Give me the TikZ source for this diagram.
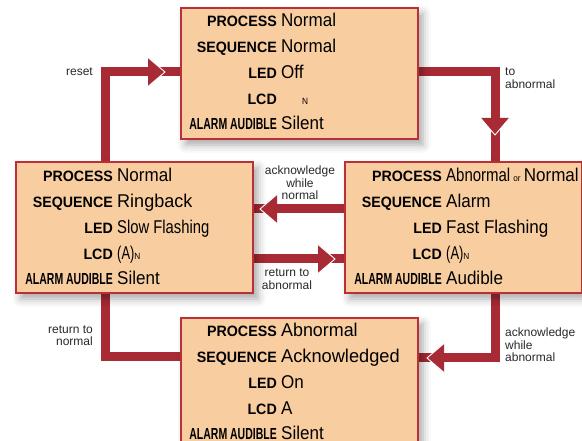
\documentclass[tikz,border=0pt]{standalone}
\usepackage{fontspec}
\usetikzlibrary{shadows.blur}
\newfontfamily\vfont{Liberation Sans}[FakeStretch=0.92]
\newfontfamily\kfont{Liberation Sans}[FakeStretch=0.95]
\newfontfamily\lfont{Liberation Sans}
\definecolor{boxfill}{RGB}{248,205,160}
\definecolor{boxline}{RGB}{185,48,56}
\definecolor{conn}{RGB}{168,42,52}
\definecolor{lbl}{RGB}{40,40,40}
\pgfdeclarelayer{bg}
\pgfsetlayers{bg,main}
\newcommand\sm[1]{{\fontsize{9}{9}\selectfont #1}}
\newcommand\aakey{\scalebox{0.69}[1]{\fontsize{16}{16}\selectfont ALARM AUDIBLE}}
\tikzset{
  state/.style={draw=boxline, line width=1.6pt, fill=boxfill, minimum width=237pt,
    minimum height=131pt, inner sep=0pt, anchor=north west,
    blur shadow={shadow xshift=5pt, shadow yshift=-6pt, shadow blur radius=8pt, shadow opacity=35}},
  key/.style={anchor=base east, inner sep=0pt, font=\kfont\bfseries\fontsize{15}{15}\selectfont},
  val/.style={anchor=base west, inner sep=0pt, font=\vfont\fontsize{18.5}{18.5}\selectfont},
  wire/.style={draw=conn, line width=9pt},
  tag/.style={inner sep=0pt, text=lbl, font=\lfont\fontsize{12}{12.5}\selectfont},
  tiphead/.pic={\fill[conn] (0,0) -- (-17,-14.5) -- (-17,14.5) -- cycle;
    \draw[white, line width=0.9pt] (-17,-14.5) -- (0,0) -- (-17,14.5);}
}
\begin{document}
\begin{tikzpicture}[x=1pt, y=-1pt]
\useasboundingbox (0,0) rectangle (582,441);
% boxes
\node[state] (top) at (180,7) {};
\node[state] (lft) at (15,161) {};
\node[state] (rgt) at (344,161) {};
\node[state] (bot) at (180,317) {};
% top box
\node[key] (tk1) at (277,27) {PROCESS};
\node[val] (tv1) at (281,27) {Normal};
\node[key] (tk2) at (277,52.7) {SEQUENCE};
\node[val] (tv2) at (281,52.7) {Normal};
\node[key] (tk3) at (277,78.4) {LED};
\node[val] (tv3) at (281,78.4) {Off};
\node[key] (tk4) at (277,104.1) {LCD};
\node[val] (tv4) at (302,104.1) {\sm{N}};
\node[key] (tk5) at (277,129.8) {\aakey};
\node[val] (tv5) at (281,129.8) {Silent};
% left box
\node[key] (lk1) at (113,182) {PROCESS};
\node[val] (lv1) at (117,182) {Normal};
\node[key] (lk2) at (113,207.7) {SEQUENCE};
\node[val] (lv2) at (117,207.7) {\scalebox{1.06}[1]{Ringback}};
\node[key] (lk3) at (113,233.4) {LED};
\node[val] (lv3) at (117,233.4) {\scalebox{0.87}[1]{Slow Flashing}};
\node[key] (lk4) at (113,259.1) {LCD};
\node[val] (lv4) at (117,259.1) {\scalebox{0.76}[1]{(A)}\sm{N}};
\node[key] (lk5) at (113,284.8) {\aakey};
\node[val] (lv5) at (117,284.8) {Silent};
% right box
\node[key] (rk1) at (442,182) {PROCESS};
\node[val] (rv1) at (446,182) {\scalebox{0.88}[1]{Abnormal}\,\sm{or}\,Normal};
\node[key] (rk2) at (442,207.7) {SEQUENCE};
\node[val] (rv2) at (446,207.7) {Alarm};
\node[key] (rk3) at (442,233.4) {LED};
\node[val] (rv3) at (446,233.4) {Fast Flashing};
\node[key] (rk4) at (442,259.1) {LCD};
\node[val] (rv4) at (446,259.1) {\scalebox{0.76}[1]{(A)}\sm{N}};
\node[key] (rk5) at (442,284.8) {\aakey};
\node[val] (rv5) at (446,284.8) {Audible};
% bottom box
\node[key] (bk1) at (277,337) {PROCESS};
\node[val] (bv1) at (281,337) {\scalebox{1.05}[1]{Abnormal}};
\node[key] (bk2) at (277,362.7) {SEQUENCE};
\node[val] (bv2) at (281,362.7) {\scalebox{1.07}[1]{Acknowledged}};
\node[key] (bk3) at (277,388.4) {LED};
\node[val] (bv3) at (281,388.4) {On};
\node[key] (bk4) at (277,414.1) {LCD};
\node[val] (bv4) at (281,414.1) {A};
\node[key] (bk5) at (277,439.8) {\aakey};
\node[val] (bv5) at (281,439.8) {Silent};
% connector bends
\coordinate (r1) at (105,72);
\coordinate (r2) at (495,72);
\coordinate (r3) at (300,209);
\coordinate (r4) at (300,259);
\coordinate (r5) at (105,357);
\coordinate (r6) at (495,358);
\begin{pgfonlayer}{bg}
\draw[wire] (lft.north -| r1) -- (r1) -- (r1 -| top.west);
\draw[wire] (r2 -| top.east) -- (r2) -- (r2 |- rgt.north);
\draw[wire] (r3 -| rgt.west) -- (r3 -| lft.east);
\draw[wire] (r4 -| lft.east) -- (r4 -| rgt.west);
\draw[wire] (r5 -| bot.west) -- (r5) -- (r5 |- lft.south);
\draw[wire] (r6 |- rgt.south) -- (r6) -- (r6 -| bot.east);
\end{pgfonlayer}
% arrow heads
\pic at (165,72) {tiphead};
\pic[rotate=-90] at (495,135) {tiphead};
\pic[rotate=180] at (260,209) {tiphead};
\pic at (335,259) {tiphead};
\pic[rotate=180] at (427,358) {tiphead};
% connector labels (base anchor = last line's baseline)
\node[tag, anchor=base east] (t1) at (93,75.5) {reset};
\node[tag, anchor=base west, align=left] (t2) at (505,88.5) {to\\abnormal};
\node[tag, anchor=base, align=center] (t3) at (300,200) {acknowledge\\while\\normal};
\node[tag, anchor=base, align=center] (t4) at (287,289.5) {return to\\abnormal};
\node[tag, anchor=base east, align=right] (t5) at (93,345.5) {return to\\normal};
\node[tag, anchor=base west, align=left] (t6) at (505,362) {acknowledge\\while\\abnormal};
\end{tikzpicture}
\end{document}
